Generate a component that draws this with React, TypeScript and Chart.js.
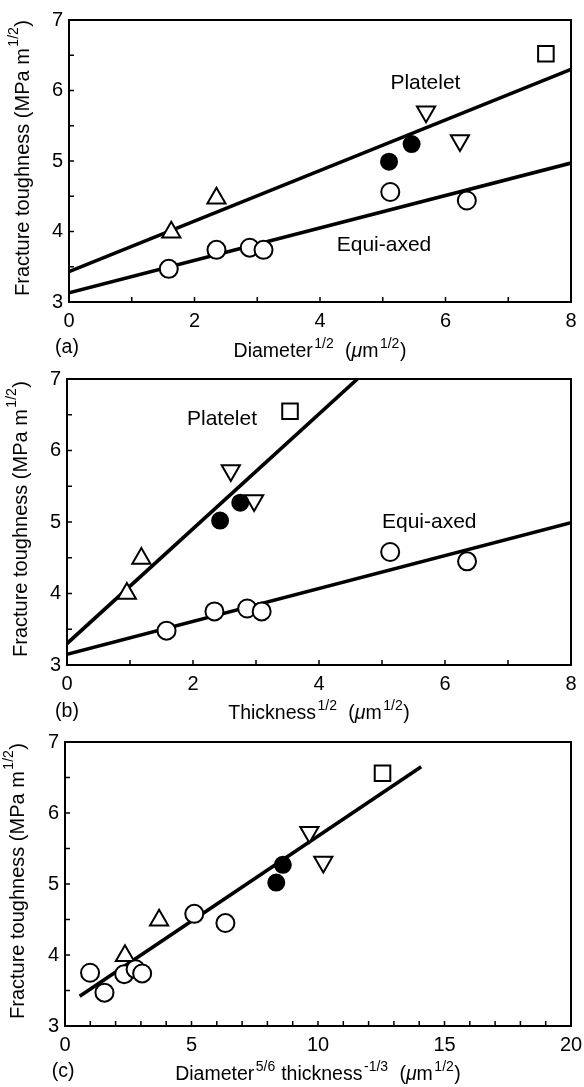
import React, { useEffect, useRef } from 'react';
import { Chart, registerables } from 'chart.js';

Chart.register(...registerables);

const FONT = '"Liberation Sans", Arial, Helvetica, sans-serif';

// ---------- tick labels ----------
const yTickLabels = [3, 4, 5, 6, 7];
const xTickLabelsAB = [0, 2, 4, 6, 8];
const xTickLabelsC = [0, 5, 10, 15, 20];

// ---------- panel (a): Diameter^1/2 ----------
const aEquiX = [1.59, 2.35, 2.88, 3.10, 5.12, 6.34];
const aEquiY = [3.47, 3.74, 3.77, 3.74, 4.56, 4.44];
const aTriUpX = [1.63, 2.35];
const aTriUpY = [3.99, 4.47];
const aFilledX = [5.10, 5.46];
const aFilledY = [4.99, 5.24];
const aTriDownX = [5.69, 6.23];
const aTriDownY = [5.70, 5.29];
const aSquareX = [7.60];
const aSquareY = [6.52];
const aPlateletLineX = [0, 8];
const aPlateletLineY = [3.43, 6.30];
const aEquiLineX = [0, 8];
const aEquiLineY = [3.13, 4.97];

// ---------- panel (b): Thickness^1/2 ----------
const bEquiX = [1.58, 2.34, 2.86, 3.09, 5.13, 6.35];
const bEquiY = [3.48, 3.75, 3.79, 3.75, 4.58, 4.45];
const bTriUpX = [0.95, 1.18];
const bTriUpY = [4.00, 4.49];
const bFilledX = [2.43, 2.75];
const bFilledY = [5.02, 5.27];
const bTriDownX = [2.60, 2.97];
const bTriDownY = [5.72, 5.30];
const bSquareX = [3.54];
const bSquareY = [6.55];
const bPlateletLineX = [0, 4.61];
const bPlateletLineY = [3.30, 7.0];
const bEquiLineX = [0, 8];
const bEquiLineY = [3.15, 4.99];

// ---------- panel (c): Diameter^5/6 thickness^-1/3 ----------
const cEquiX = [0.99, 1.56, 2.34, 2.79, 3.05, 5.11, 6.34];
const cEquiY = [3.75, 3.47, 3.73, 3.80, 3.74, 4.58, 4.45];
const cTriUpX = [2.37, 3.72];
const cTriUpY = [3.99, 4.49];
const cFilledX = [8.35, 8.61];
const cFilledY = [5.02, 5.27];
const cTriDownX = [9.66, 10.21];
const cTriDownY = [5.73, 5.31];
const cSquareX = [12.55];
const cSquareY = [6.56];
const cFitLineX = [0.58, 14.08];
const cFitLineY = [3.42, 6.65];

// ---------- texts ----------
type Part = { t: string; sup?: boolean; it?: boolean };
const yTitle: Part[] = [{ t: 'Fracture toughness (MPa m' }, { t: '1/2', sup: true }, { t: ')' }];
const aXTitle: Part[] = [{ t: 'Diameter' }, { t: '1/2', sup: true }, { t: '  (' }, { t: 'μ', it: true }, { t: 'm' }, { t: '1/2', sup: true }, { t: ')' }];
const bXTitle: Part[] = [{ t: 'Thickness' }, { t: '1/2', sup: true }, { t: '  (' }, { t: 'μ', it: true }, { t: 'm' }, { t: '1/2', sup: true }, { t: ')' }];
const cXTitle: Part[] = [{ t: 'Diameter' }, { t: '5/6', sup: true }, { t: ' thickness' }, { t: '-1/3', sup: true }, { t: '  (' }, { t: 'μ', it: true }, { t: 'm' }, { t: '1/2', sup: true }, { t: ')' }];

const aNotes = [
  { text: 'Platelet', x: 5.68, y: 6.10 },
  { text: 'Equi-axed', x: 5.02, y: 3.80 },
];
const bNotes = [
  { text: 'Platelet', x: 2.46, y: 6.44 },
  { text: 'Equi-axed', x: 5.75, y: 5.0 },
];
const cNotes: { text: string; x: number; y: number }[] = [];

const zip = (xs: number[], ys: number[]) => xs.map((x, i) => ({ x, y: ys[i] }));

function fontFor(p: Part, size: number) {
  const s = p.sup ? Math.round(size * 0.7) : size;
  return `${p.it ? 'italic ' : ''}${s}px ${FONT}`;
}

function drawRich(ctx: CanvasRenderingContext2D, parts: Part[], x: number, y: number, size: number, align: 'center' | 'left') {
  ctx.textBaseline = 'middle';
  ctx.textAlign = 'left';
  const widths = parts.map((p) => {
    ctx.font = fontFor(p, size);
    return ctx.measureText(p.t).width + (p.sup ? 2 : 0);
  });
  const total = widths.reduce((a, b) => a + b, 0);
  let cx = align === 'center' ? x - total / 2 : x;
  parts.forEach((p, i) => {
    ctx.font = fontFor(p, size);
    ctx.fillText(p.t, cx + (p.sup ? 1.5 : 0), p.sup ? y - size * 0.42 : y);
    cx += widths[i];
  });
}

type Spec = {
  label: string;
  canvasTop: number;
  canvasH: number;
  area: { l: number; r: number; t: number; b: number };
  xMax: number;
  xTicks: number[];
  xMinor: number;
  xTitle: Part[];
  xTitleY: number;
  labelX: number;
  labelY: number;
  yTitleX: number;
  notes: { text: string; x: number; y: number }[];
  equi: { x: number; y: number }[];
  triUp: { x: number; y: number }[];
  filled: { x: number; y: number }[];
  triDown: { x: number; y: number }[];
  square: { x: number; y: number }[];
  lines: { x: number; y: number }[][];
};

const specs: Spec[] = [
  {
    label: '(a)', canvasTop: 0, canvasH: 364,
    area: { l: 69, r: 578, t: 20, b: 302 },
    xMax: 8, xTicks: xTickLabelsAB, xMinor: 1, xTitle: aXTitle, xTitleY: 352,
    labelX: 67, labelY: 348, yTitleX: 23, notes: aNotes,
    equi: zip(aEquiX, aEquiY), triUp: zip(aTriUpX, aTriUpY), filled: zip(aFilledX, aFilledY),
    triDown: zip(aTriDownX, aTriDownY), square: zip(aSquareX, aSquareY),
    lines: [zip(aPlateletLineX, aPlateletLineY), zip(aEquiLineX, aEquiLineY)],
  },
  {
    label: '(b)', canvasTop: 364, canvasH: 362,
    area: { l: 67, r: 577, t: 379, b: 665 },
    xMax: 8, xTicks: xTickLabelsAB, xMinor: 1, xTitle: bXTitle, xTitleY: 714,
    labelX: 67, labelY: 712, yTitleX: 21, notes: bNotes,
    equi: zip(bEquiX, bEquiY), triUp: zip(bTriUpX, bTriUpY), filled: zip(bFilledX, bFilledY),
    triDown: zip(bTriDownX, bTriDownY), square: zip(bSquareX, bSquareY),
    lines: [zip(bPlateletLineX, bPlateletLineY), zip(bEquiLineX, bEquiLineY)],
  },
  {
    label: '(c)', canvasTop: 726, canvasH: 361,
    area: { l: 65, r: 575, t: 742, b: 1026 },
    xMax: 20, xTicks: xTickLabelsC, xMinor: 1, xTitle: cXTitle, xTitleY: 1075,
    labelX: 63, labelY: 1072, yTitleX: 18, notes: cNotes,
    equi: zip(cEquiX, cEquiY), triUp: zip(cTriUpX, cTriUpY), filled: zip(cFilledX, cFilledY),
    triDown: zip(cTriDownX, cTriDownY), square: zip(cSquareX, cSquareY),
    lines: [zip(cFitLineX, cFitLineY)],
  },
];

function makeConfig(spec: Spec): any {
  const { area, canvasTop, canvasH } = spec;
  const marker = (data: any[], style: string, radius: number, fill: string, rotation = 0) => ({
    data,
    showLine: false,
    pointStyle: style,
    pointRadius: radius,
    pointRotation: rotation,
    pointBorderWidth: 2,
    pointBorderColor: '#000',
    pointBackgroundColor: fill,
    order: 1,
  });
  const datasets: any[] = [
    ...spec.lines.map((l) => ({
      data: l,
      showLine: true,
      pointRadius: 0,
      borderColor: '#000',
      borderWidth: 3.6,
      order: 5,
    })),
    marker(spec.equi, 'circle', 9, '#fff'),
    marker(spec.triUp, 'triangle', 10.5, '#fff'),
    marker(spec.filled, 'circle', 8, '#000'),
    marker(spec.triDown, 'triangle', 10.5, '#fff', 180),
    marker(spec.square, 'rect', 11, '#fff'),
  ];

  const decor = {
    id: 'decor' + spec.label,
    afterDraw(chart: any) {
      const ctx: CanvasRenderingContext2D = chart.ctx;
      const ca = chart.chartArea;
      const xs = chart.scales.x;
      const ys = chart.scales.y;
      ctx.save();
      ctx.strokeStyle = '#000';
      ctx.fillStyle = '#000';
      // frame
      ctx.lineWidth = 2;
      ctx.strokeRect(ca.left, ca.top, ca.right - ca.left, ca.bottom - ca.top);
      // inward ticks
      ctx.lineWidth = 1.5;
      ctx.beginPath();
      for (let v = 3.5; v < 7; v += 0.5) {
        const py = ys.getPixelForValue(v);
        ctx.moveTo(ca.left, py);
        ctx.lineTo(ca.left + 5, py);
      }
      for (let v = spec.xMinor; v < spec.xMax; v += spec.xMinor) {
        const px = xs.getPixelForValue(v);
        ctx.moveTo(px, ca.bottom);
        ctx.lineTo(px, ca.bottom - 5);
      }
      ctx.stroke();
      // notes
      ctx.font = `21px ${FONT}`;
      ctx.textAlign = 'center';
      ctx.textBaseline = 'middle';
      spec.notes.forEach((n) => {
        ctx.fillText(n.text, xs.getPixelForValue(n.x), ys.getPixelForValue(n.y));
      });
      // x title
      drawRich(ctx, spec.xTitle, (ca.left + ca.right) / 2, spec.xTitleY - canvasTop, 19.5, 'center');
      // panel label
      ctx.font = `19.5px ${FONT}`;
      ctx.textAlign = 'center';
      ctx.textBaseline = 'middle';
      ctx.fillText(spec.label, spec.labelX, spec.labelY - canvasTop);
      // y title
      ctx.save();
      ctx.translate(spec.yTitleX, (ca.top + ca.bottom) / 2 - 3);
      ctx.rotate(-Math.PI / 2);
      drawRich(ctx, yTitle, 0, 0, 20, 'center');
      ctx.restore();
      ctx.restore();
    },
  };

  return {
    type: 'scatter',
    data: { datasets },
    options: {
      animation: false,
      responsive: false,
      devicePixelRatio: 1,
      events: [],
      layout: { padding: { top: area.t - canvasTop, right: 584 - area.r, left: 0, bottom: 0 } },
      plugins: { legend: { display: false }, tooltip: { enabled: false } },
      scales: {
        x: {
          type: 'linear',
          min: 0,
          max: spec.xMax,
          grid: { display: false, drawTicks: false },
          border: { display: false },
          ticks: { color: '#000', font: { family: FONT, size: 20 }, padding: 7, maxRotation: 0, autoSkip: false },
          afterBuildTicks: (s: any) => {
            s.ticks = spec.xTicks.map((v) => ({ value: v }));
          },
          afterFit: (s: any) => {
            s.height = canvasTop + canvasH - area.b;
            s.paddingLeft = 0;
            s.paddingRight = 0;
          },
        },
        y: {
          type: 'linear',
          min: 3,
          max: 7,
          grid: { display: false, drawTicks: false },
          border: { display: false },
          ticks: { color: '#000', font: { family: FONT, size: 20 }, padding: 6, autoSkip: false },
          afterBuildTicks: (s: any) => {
            s.ticks = yTickLabels.map((v) => ({ value: v }));
          },
          afterFit: (s: any) => {
            s.width = area.l;
            s.paddingTop = 0;
            s.paddingBottom = 0;
          },
        },
      },
    },
    plugins: [decor],
  };
}

function Panel({ spec }: { spec: Spec }) {
  const ref = useRef<HTMLCanvasElement>(null);
  useEffect(() => {
    const chart = new Chart(ref.current as HTMLCanvasElement, makeConfig(spec));
    return () => chart.destroy();
  }, [spec]);
  return (
    <canvas
      ref={ref}
      width={584}
      height={spec.canvasH}
      style={{ position: 'absolute', left: 0, top: spec.canvasTop, width: 584, height: spec.canvasH, display: 'block' }}
    />
  );
}

export default function App() {
  return (
    <div style={{ position: 'absolute', left: 0, top: 0, width: 584, height: 1087, background: '#fff', overflow: 'hidden' }}>
      {specs.map((s) => (
        <Panel key={s.label} spec={s} />
      ))}
    </div>
  );
}
